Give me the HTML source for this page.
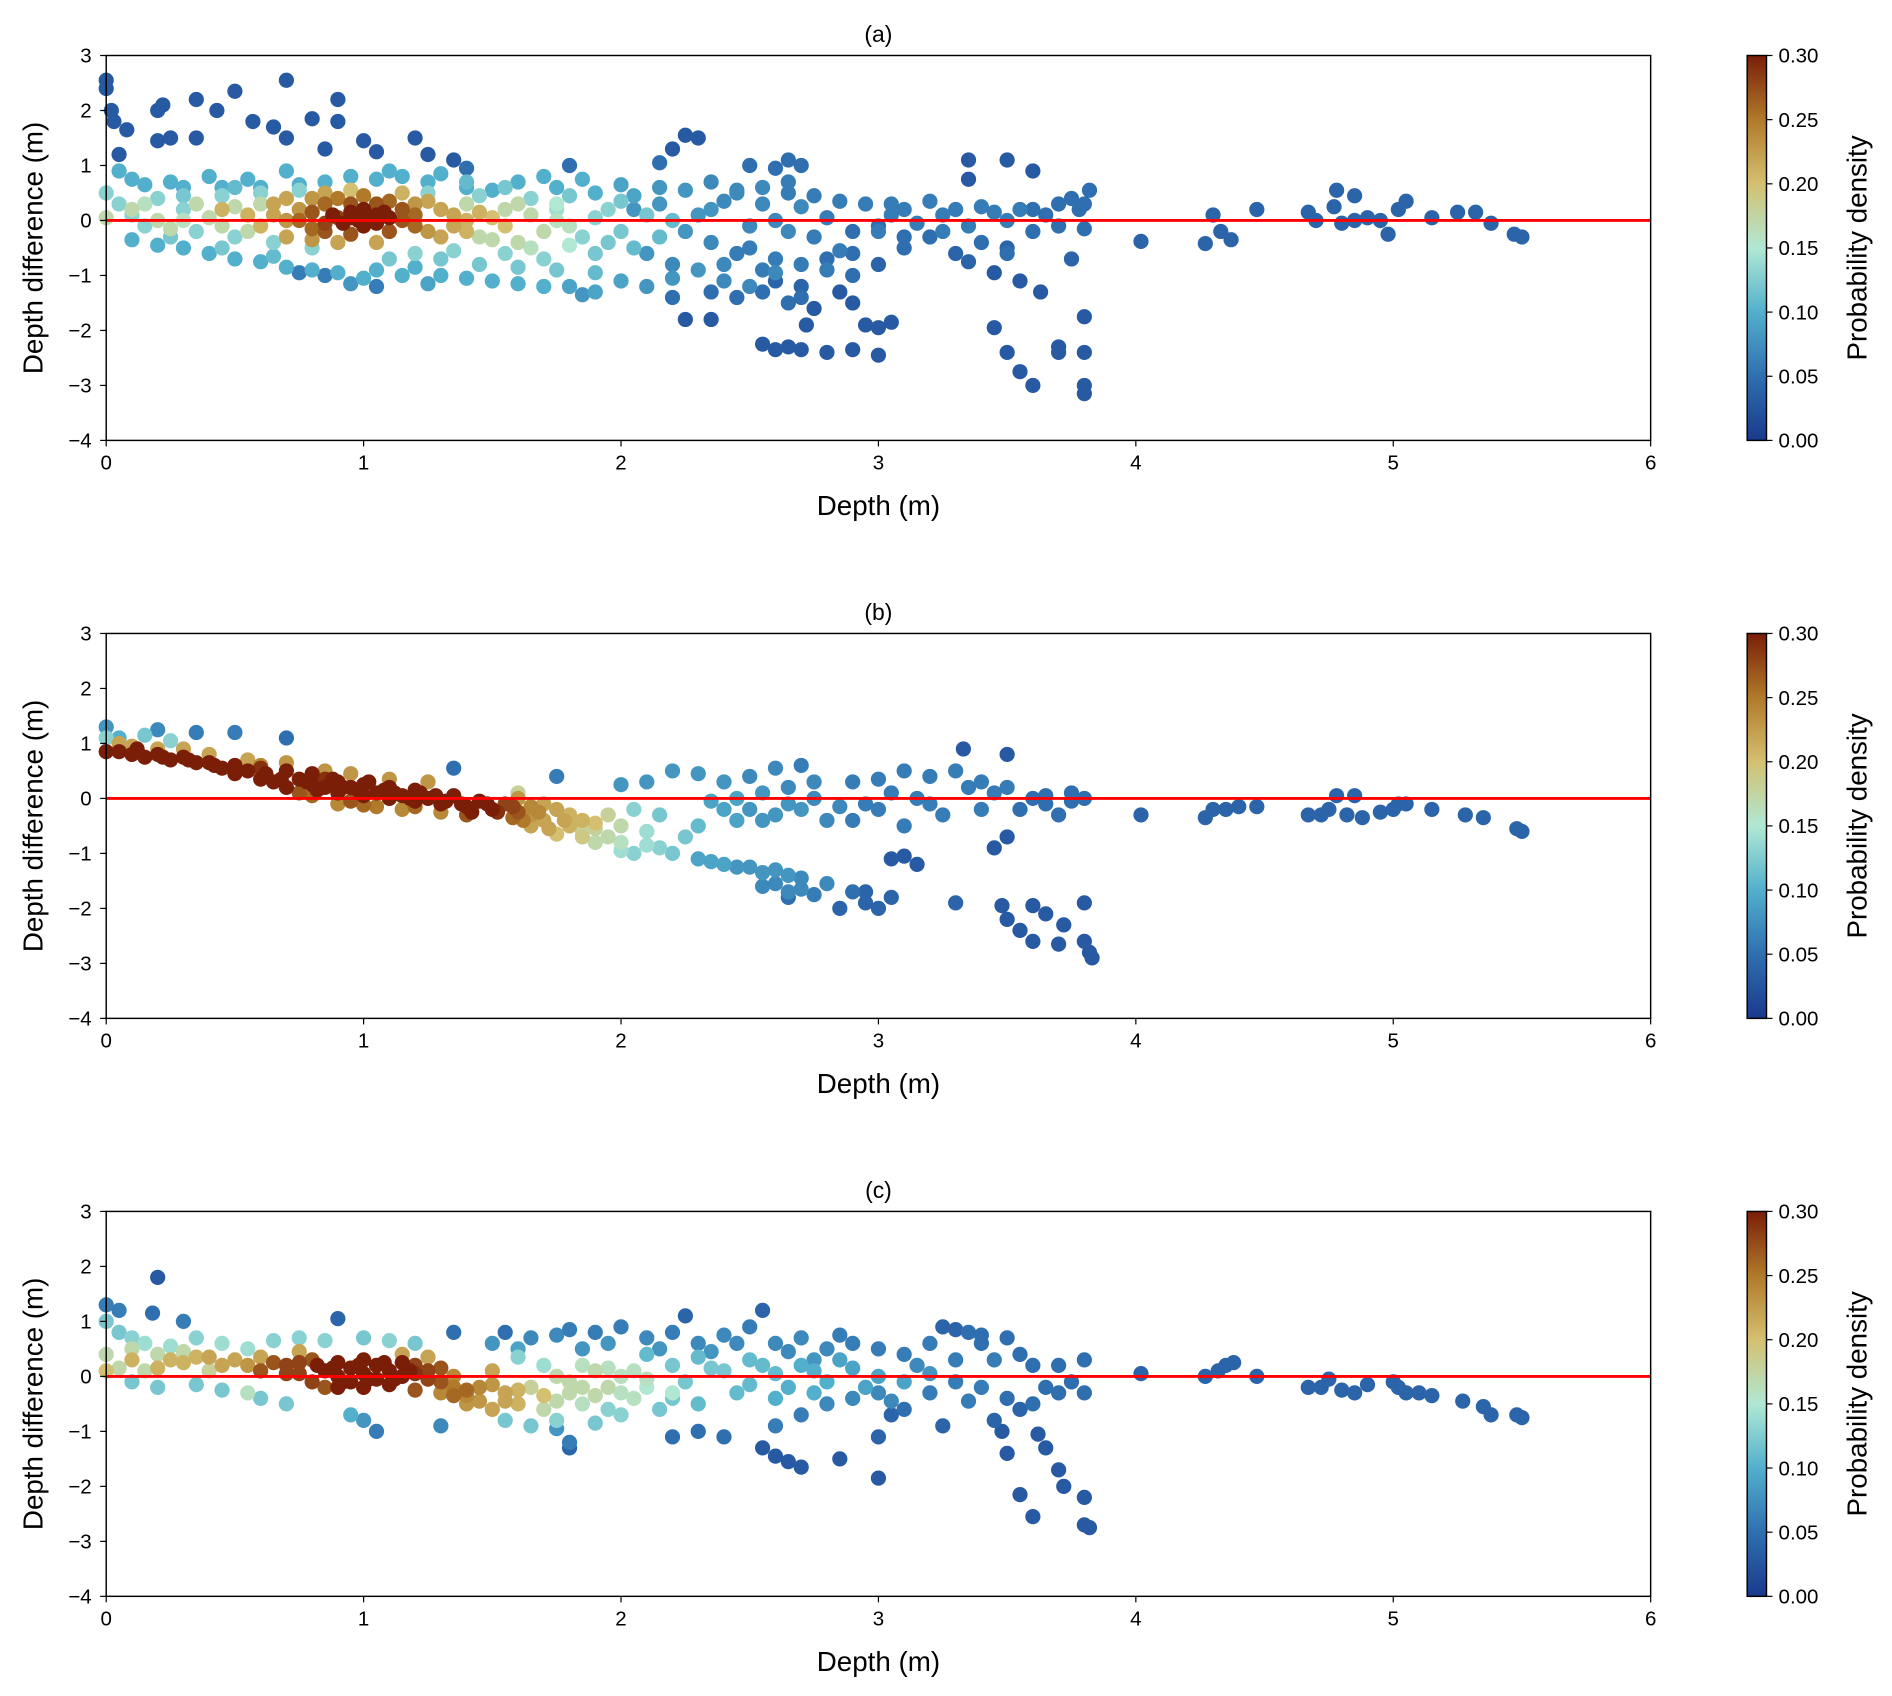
<!DOCTYPE html>
<html><head><meta charset="utf-8">
<style>
html,body{margin:0;padding:0;background:#fff;}
svg{display:block;font-family:"Liberation Sans",Arial,sans-serif;}
</style></head>
<body>
<svg id="fig" width="1892" height="1696" viewBox="0 0 1568 1405.6" xmlns="http://www.w3.org/2000/svg">
<defs>
<linearGradient id="cmap" x1="0" y1="1" x2="0" y2="0">
<stop offset="0" stop-color="#1a3a8c"/>
<stop offset="0.1667" stop-color="#2f6fb0"/>
<stop offset="0.3333" stop-color="#52b0cc"/>
<stop offset="0.5" stop-color="#b0e8d4"/>
<stop offset="0.6667" stop-color="#d4c070"/>
<stop offset="0.8333" stop-color="#b07a2a"/>
<stop offset="1" stop-color="#7a1e08"/>
</linearGradient>
</defs>
</svg>
<script>
const xTicks=[0,1,2,3,4,5,6];
const yTicks=[-4,-3,-2,-1,0,1,2,3];
const cbTicks=[0,0.05,0.1,0.15,0.2,0.25,0.3];
const panelTitles=["(a)","(b)","(c)"];
const ptsA=[
[0,2.55,.03],[0,2.4,.03],[.02,2,.03],[.03,1.8,.03],[.05,1.2,.03],[.08,1.65,.03],[.2,2,.03],[.22,2.1,.03],[.2,1.45,.03],[.25,1.5,.03],[.35,2.2,.03],[.43,2,.03],[.5,2.35,.03],[.35,1.5,.03],[.57,1.8,.03],[.65,1.7,.03],[.7,2.55,.03],[.8,1.85,.03],[.7,1.5,.03],[.9,2.2,.03],[.9,1.8,.03],[.85,1.3,.03],[1,1.45,.03],[1.05,1.25,.03],[1.2,1.5,.03],[1.25,1.2,.03],[1.4,.95,.05],[1.35,1.1,.03],[1.8,1,.05],[2.25,1.55,.03],[2.3,1.5,.03],[2.2,1.3,.03],[2.15,1.05,.05],[2.5,1,.05],[2.6,.95,.05],[2.65,1.1,.05],[2.7,1,.05],[3.35,1.1,.03],[3.5,1.1,.03],[3.6,.9,.03],[3.35,.75,.03],
[2.25,-1.8,.03],[2.35,-1.8,.03],[2.55,-2.25,.03],[2.6,-2.35,.03],[2.65,-2.3,.03],[2.7,-2.35,.03],[2.72,-1.9,.03],[2.8,-2.4,.03],[2.9,-2.35,.03],[2.95,-1.9,.03],[3,-2.45,.03],[3,-1.95,.03],[3.05,-1.85,.03],[2.85,-1.3,.03],[2.9,-1.5,.03],[2.75,-1.6,.03],[2.7,-1.2,.04],[2.6,-1.1,.04],[3.45,-1.95,.03],[3.5,-2.4,.03],[3.55,-2.75,.03],[3.6,-3,.03],[3.7,-2.3,.03],[3.7,-2.4,.03],[3.8,-2.4,.03],[3.8,-3,.03],[3.8,-3.15,.03],[3.8,-1.75,.03],[3.63,-1.3,.03],[3.55,-1.1,.03],[3.45,-.95,.03],[3.5,-.5,.04],[3.75,-.7,.04],[3.3,-.6,.04],[3,-.8,.04],
[4.02,-.38,.04],[4.27,-.42,.04],[4.3,.1,.04],[4.33,-.2,.04],[4.37,-.35,.04],[4.47,.2,.04],[4.67,.15,.04],[4.7,0,.04],[4.77,.25,.04],[4.78,.55,.04],[4.8,-.05,.04],[4.85,.45,.04],[4.85,0,.04],[4.9,.05,.04],[4.95,0,.04],[4.98,-.25,.04],[5.02,.2,.04],[5.05,.35,.04],[5.15,.05,.04],[5.25,.15,.04],[5.32,.15,.04],[5.38,-.05,.04],[5.47,-.25,.04],[5.5,-.3,.04],
[.05,.9,.1],[.1,.75,.1],[.15,.65,.1],[.25,.7,.1],[.3,.6,.1],[.4,.8,.1],[.45,.6,.1],[.55,.75,.1],[.6,.6,.1],[.7,.9,.1],[.75,.65,.1],[.85,.7,.1],[.95,.8,.1],[1.05,.75,.1],[1.1,.9,.1],[1.15,.8,.1],[1.25,.7,.1],[1.3,.85,.1],[1.4,.6,.1],[1.5,.55,.1],[1.6,.7,.1],[1.7,.8,.1],[1.75,.6,.1],[1.85,.75,.1],[1.9,.5,.1],[2,.65,.09],[2.05,.45,.09],[2.15,.6,.08],[2.25,.55,.08],[2.35,.7,.07],[2.45,.55,.07],[2.55,.6,.07],[2.65,.5,.06],[2.75,.45,.06],
[.1,-.35,.1],[.2,-.45,.1],[.3,-.5,.1],[.4,-.6,.1],[.5,-.7,.1],[.6,-.75,.1],[.7,-.85,.1],[.8,-.9,.1],[.9,-.95,.1],[1,-1.05,.1],[1.05,-.9,.1],[1.15,-1,.1],[1.2,-.85,.1],[1.3,-1,.1],[1.4,-1.05,.1],[1.5,-1.1,.1],[1.6,-1.15,.1],[1.7,-1.2,.1],[1.8,-1.2,.09],[1.9,-1.3,.09],[2,-1.1,.09],[2.1,-1.2,.08],[2.2,-1.05,.08],[2.3,-.9,.08],[2.4,-1.1,.07],[2.5,-1.2,.07],[2.6,-.95,.07],[2.7,-.8,.06],[2.8,-.9,.06],[1.85,-1.35,.08],[1.25,-1.15,.09],[.95,-1.15,.08],
[.75,-.95,.06],[.85,-1,.06],[1.05,-1.2,.06],[2.2,-1.4,.05],[2.35,-1.3,.05],[2.45,-1.4,.05],[2.55,-1.3,.05],[2.65,-1.5,.05],[2.7,-1.4,.05],[2.9,-1,.05],[3.1,-.5,.05],[3.2,-.3,.05],[2.9,-.2,.05],[3,-.1,.05],
[2.05,.2,.08],[2.15,.3,.08],[2.25,-.2,.08],[2.3,.1,.08],[2.4,.35,.07],[2.5,-.1,.07],[2.55,.3,.07],[2.6,0,.07],[2.7,.25,.07],[2.75,-.3,.06],[2.8,.05,.06],[2.85,-.55,.06],[2.95,.3,.06],[3,-.2,.06],[3.05,.1,.06],[3.1,.2,.06],[3.15,-.05,.06],[3.2,.35,.06],[3.25,.1,.06],[3.3,.2,.06],[3.35,-.1,.06],[3.4,.25,.06],[3.45,.15,.06],[3.5,0,.06],[3.55,.2,.06],[3.6,-.2,.05],[3.65,.1,.05],[3.7,-.1,.05],[3.75,.4,.05],[3.78,.2,.05],[3.8,.3,.05],[3.82,.55,.05],[3.8,-.15,.05],[2.45,-.6,.06],[2.6,-.7,.06],[2.8,-.7,.05],[3.1,-.3,.05],[3.5,-.6,.05],[3.35,-.75,.04],[2.5,-.5,.06],
[2.1,-.6,.08],[2.2,-.8,.07],[2.35,-.4,.07],[2.4,-.8,.07],[2.55,-.9,.06],[2.65,-.2,.07],[2.9,-.6,.05],[3.25,-.2,.06],[3.4,-.4,.05],[3.6,.2,.05],[3.7,.3,.05],[2.35,.2,.08],[2.45,.5,.07],[2.65,.7,.06],[2.85,.35,.06],[3.05,.3,.06],
[0,.5,.13],[.05,.3,.13],[.1,.1,.13],[.15,-.1,.13],[.2,.4,.13],[.3,.2,.13],[.35,-.2,.13],[.45,.45,.13],[.5,-.3,.13],[.6,.5,.13],[.65,-.4,.13],[.75,.55,.13],[.8,-.5,.13],[1.25,.5,.13],[1.2,-.6,.13],[1.35,-.55,.13],[1.45,.45,.13],[1.55,-.6,.13],[1.65,.4,.13],[1.7,-.7,.13],[1.8,.45,.12],[1.9,-.6,.12],[2,.35,.12],[2.05,-.5,.11],[2.1,.1,.12],[2.15,-.3,.11],[1.95,.2,.13],[2.2,0,.11],[1.75,.2,.14],[1.85,-.3,.13],
[1.3,-.7,.12],[1.45,-.8,.12],[1.6,-.85,.12],[1.75,-.9,.12],[1.9,-.95,.11],[1.95,-.4,.12],[2,-.2,.12],[1.9,.05,.13],[1.4,.7,.11],[1.55,.6,.12],[.3,.45,.12],[.5,.6,.11],[.25,-.3,.12],[.45,-.5,.12],[.65,-.65,.11],[1.1,-.7,.12],
[0,.05,.17],[.1,.2,.17],[.2,0,.17],[.25,-.15,.17],[.35,.3,.17],[.4,.05,.17],[.5,.25,.17],[.55,-.2,.17],[.6,.3,.17],[1.4,.3,.17],[1.5,-.35,.17],[1.55,.2,.17],[1.6,-.4,.17],[1.65,.1,.17],[1.7,-.2,.17],[1.75,0,.16],[1.8,-.1,.16],[1.6,.3,.17],[1.45,-.3,.17],
[1.65,-.5,.16],[1.8,-.45,.15],[1.75,.3,.15],[.3,0,.16],[.45,-.1,.17],[.15,.3,.16],
[.45,.2,.21],[.55,.1,.21],[.6,-.1,.21],[.65,.3,.22],[.7,.4,.22],[.7,-.3,.22],[.75,.2,.23],[1.25,.35,.22],[1.3,-.3,.22],[1.35,.1,.22],[1.4,0,.21],[1.45,.15,.21],[1.5,.05,.2],[1.55,-.1,.2],[1.35,-.1,.22],[1.2,.3,.23],[.8,.4,.23],[.85,.5,.22],[.8,-.35,.23],[1.25,-.2,.23],
[.65,.1,.22],[.7,0,.23],[1.3,.2,.22],[1.4,-.2,.21],[1.15,.5,.21],[.95,.55,.2],[1.05,-.4,.22],[.9,-.4,.22],
[.75,0,.26],[.8,.15,.27],[.8,-.15,.26],[.85,.3,.26],[.85,-.2,.27],[.9,.4,.25],[.9,.05,.28],[.95,.3,.27],[.95,-.25,.27],[1,.45,.25],[1.05,.3,.27],[1.1,-.2,.27],[1.1,.35,.26],[1.15,0,.27],[1.15,.2,.27],[1.2,-.1,.26],[1.2,.1,.26],[.85,-.05,.28],
[.88,.1,.3],[.92,-.05,.3],[.95,.15,.3],[.98,0,.3],[1,.2,.3],[1,-.1,.3],[1.02,.05,.3],[1.05,.1,.3],[1.05,-.05,.3],[1.08,.15,.3],[.95,.05,.3],[1.1,.05,.3]
];
const ptsB=[
[0,1.3,.08],[.05,1.1,.1],[.2,1.25,.07],[.35,1.2,.06],[.5,1.2,.06],[.7,1.1,.05],[1.35,.55,.05],[1.75,.4,.06],[3.33,.9,.03],[3.5,.8,.03],
[0,.85,.3],[.05,.85,.3],[.1,.8,.3],[.15,.75,.3],[.2,.8,.3],[.25,.7,.3],[.3,.75,.3],[.35,.65,.3],[.4,.65,.3],[.45,.55,.3],[.5,.45,.3],[.5,.6,.3],[.6,.35,.3],[.65,.3,.3],[.7,.5,.3],[.7,.2,.3],[.75,.35,.3],[.8,.25,.3],[.8,.45,.3],[.85,.2,.3],[.9,.3,.3],[.9,.1,.3],[.95,.2,.3],[1,.05,.3],[1,.25,.3],[1.05,.1,.3],[1.1,0,.3],[1.1,.2,.3],[1.15,.05,.3],[1.2,-.05,.3],[1.2,.15,.3],[1.25,0,.3],[1.3,-.1,.3],[1.35,.05,.3],[1.4,-.15,.3],[1.45,-.05,.3],[1.5,-.2,.3],[1.55,-.1,.28],[1.6,-.25,.27],[1.4,-.3,.27],[.95,-.05,.27],[.75,.1,.27],
[.12,.9,.3],[.22,.75,.3],[.32,.7,.3],[.42,.6,.3],[.55,.5,.3],[.62,.45,.3],[.68,.35,.3],[.78,.3,.3],[.82,.15,.3],[.88,.35,.3],[.92,.2,.3],[.98,.15,.3],[1.02,.3,.3],[1.08,.15,.3],[1.12,.1,.3],[1.18,0,.3],[1.22,.1,.3],[1.28,.05,.3],[1.32,-.05,.3],[1.38,-.1,.3],[1.42,-.25,.3],[1.48,-.1,.3],[1.52,-.25,.29],[1.58,-.15,.28],[.6,.55,.29],[.85,.35,.29],
[.05,1,.22],[.1,.95,.22],[.2,.9,.22],[.3,.9,.22],[.4,.8,.22],[.55,.7,.22],[.6,.6,.24],[.7,.65,.23],[.85,.5,.23],[.95,.45,.23],[1.1,.35,.23],[1.25,.3,.23],[.9,-.1,.24],[1.15,-.2,.24],[1.3,-.25,.24],[1.6,0,.23],[1.65,-.3,.23],[1.7,-.4,.22],[1.75,-.2,.22],[1.8,-.5,.21],[1.85,-.4,.21],[1.7,-.1,.22],[1.65,-.5,.22],[1.75,-.65,.2],[1.8,-.3,.21],[1.05,-.15,.25],
[1.62,-.4,.25],[1.68,-.25,.24],[1.72,-.55,.22],[1.78,-.4,.22],[1.58,-.35,.26],[1.9,-.45,.2],[1.85,-.7,.19],[1.65,-.15,.24],[.8,.05,.26],[1.0,-.12,.26],[1.2,-.15,.26],
[1.85,-.6,.18],[1.9,-.55,.18],[1.95,-.7,.17],[1.9,-.8,.17],[2,-.5,.17],[1.6,.1,.18],[1.95,-.3,.18],[2,-.8,.16],
[2,-.95,.14],[2.05,-1,.13],[2.1,-.85,.14],[2.15,-.9,.13],[2.2,-1,.12],[2.1,-.6,.14],[2.15,-.3,.12],[.15,1.15,.12],[.25,1.05,.13],[0,1.1,.13],[2.05,-.2,.13],[2.25,-.7,.12],[2.3,-.5,.11],
[2.3,-1.1,.09],[2.4,-1.2,.09],[2.5,-1.25,.08],[2.6,-1.3,.08],[2.7,-1.45,.07],[2.8,-1.55,.07],[2.55,-1.6,.07],[2.65,-1.7,.07],[2.75,-1.75,.06],[2.45,-.4,.09],[2.5,-.2,.08],[2.55,.1,.08],[2.6,-.3,.08],[2.65,.2,.07],[2.7,-.2,.08],[2.75,0,.07],[2.8,-.4,.07],[2.85,-.15,.07],[2.5,.4,.07],[2.6,.55,.07],[2.7,.6,.06],[2.4,.3,.08],[2.3,.45,.08],[2.2,.5,.08],[2.1,.3,.08],[2,.25,.08],[2.35,-.05,.09],[2.9,.3,.06],[3,.35,.06],[3.1,.5,.06],[3.2,.4,.06],[3.3,.5,.06],[3.4,.3,.06],[3,-.2,.06],[3.1,-.5,.06],[3.15,0,.06],[3.25,-.3,.06],[3.35,.2,.06],[3.45,.1,.06],[3.55,-.2,.05],[3.6,0,.05],[3.7,-.3,.05],[3.75,.1,.05],[3.8,0,.05],[3.65,-.1,.05],[2.9,-.4,.06],[2.45,0,.09],
[2.35,-1.15,.09],[2.45,-1.25,.08],[2.55,-1.35,.08],[2.65,-1.4,.08],[2.6,-1.55,.07],[2.7,-1.65,.07],[2.4,-.2,.09],[2.55,-.4,.08],[2.65,-.1,.08],[2.75,.3,.07],[2.95,-.1,.06],[3.05,.1,.06],[3.2,-.1,.06],[3.4,-.2,.06],[3.5,.2,.06],[3.65,.05,.05],[3.75,-.05,.05],
[2.65,-1.8,.05],[2.95,-1.7,.04],[2.95,-1.9,.04],[3,-2,.04],[3.05,-1.8,.04],[3.05,-1.1,.03],[3.1,-1.05,.03],[3.15,-1.2,.03],[3.3,-1.9,.04],[3.45,-.9,.03],[3.48,-1.95,.03],[3.5,-2.2,.03],[3.55,-2.4,.03],[3.6,-2.6,.03],[3.6,-1.95,.03],[3.65,-2.1,.03],[3.7,-2.65,.03],[3.72,-2.3,.03],[3.8,-1.9,.03],[3.8,-2.6,.03],[3.82,-2.8,.03],[3.83,-2.9,.03],[3.5,-.7,.03],[2.85,-2,.04],[2.9,-1.7,.05],
[4.02,-.3,.04],[4.27,-.35,.04],[4.3,-.2,.04],[4.35,-.2,.04],[4.4,-.15,.04],[4.47,-.15,.04],[4.67,-.3,.04],[4.72,-.3,.04],[4.75,-.2,.04],[4.78,.05,.04],[4.82,-.3,.04],[4.85,.05,.04],[4.88,-.35,.04],[4.95,-.25,.04],[5,-.2,.04],[5.02,-.1,.04],[5.05,-.1,.04],[5.15,-.2,.04],[5.28,-.3,.04],[5.35,-.35,.04],[5.48,-.55,.04],[5.5,-.6,.04]
];
const ptsC=[
[0,1.3,.06],[.05,1.2,.06],[.2,1.8,.03],[.18,1.15,.05],[.3,1,.06],[.9,1.05,.04],[1.35,.8,.05],[1.55,.8,.05],[2.25,1.1,.04],[2.55,1.2,.04],[3.25,.9,.04],[3.3,.85,.04],
[1.5,.6,.08],[1.65,.7,.07],[1.75,.75,.07],[1.8,.85,.06],[1.9,.8,.06],[2,.9,.06],[2.1,.7,.07],[2.2,.8,.06],[2.3,.6,.07],[2.4,.75,.07],[2.5,.9,.06],[2.6,.6,.07],[2.7,.7,.07],[2.8,.5,.07],[2.9,.6,.06],[3,.5,.06],[3.1,.4,.06],[3.2,.6,.06],[3.35,.8,.05],[3.4,.6,.05],[3.5,.7,.05],[3.55,.4,.05],[3.6,.2,.05],[3.45,.3,.06],[3.3,.3,.06],[1.85,.5,.08],[2.35,.45,.08],[2.75,.3,.08],[3.7,.2,.05],[3.8,.3,.05],[3.75,-.1,.05],[3.8,-.3,.05],[3.7,-.3,.05],[3.6,-.5,.05],[3.5,-.4,.05],[3.4,-.2,.06],[3.3,-.1,.06],[3.2,-.3,.06],[3.1,-.6,.05],[3,-.3,.07],[2.9,-.4,.07],[3.25,-.9,.04],[3,-1.1,.04],[2.4,-1.1,.05],[2.3,-1,.05],[2.2,-1.1,.05],[2.6,-.9,.06],[2.7,-.7,.06],[1.8,-1.2,.06],[1.75,-.95,.08],[1.3,-.9,.07],[1.05,-1,.06],[1,-.8,.08],[.95,-.7,.1],
[2.45,.6,.07],[2.65,.45,.07],[2.85,.75,.06],[3.15,.2,.07],[3.4,.75,.05],[2.15,.5,.08],[1.95,.6,.08],[1.6,.5,.09],[3.05,-.45,.07],[3.35,-.45,.06],[3.65,-.2,.05],[2.8,-.5,.07],
[2.55,-1.3,.03],[2.6,-1.45,.03],[2.65,-1.55,.03],[2.7,-1.65,.03],[2.85,-1.5,.03],[3,-1.85,.03],[3.05,-.7,.04],[3.45,-.8,.04],[3.5,-1.4,.03],[3.55,-2.15,.03],[3.6,-2.55,.03],[3.62,-1.05,.03],[3.65,-1.3,.03],[3.7,-1.7,.03],[3.72,-2,.03],[3.8,-2.2,.03],[3.8,-2.7,.03],[3.82,-2.75,.03],[3.48,-1,.03],[3.55,-.6,.04],[1.8,-1.3,.04],
[4.02,.05,.04],[4.27,0,.04],[4.32,.1,.04],[4.35,.2,.04],[4.38,.25,.04],[4.47,0,.04],[4.67,-.2,.04],[4.72,-.2,.04],[4.75,-.05,.04],[4.8,-.25,.04],[4.85,-.3,.04],[4.9,-.15,.04],[5,-.1,.04],[5.02,-.2,.04],[5.05,-.3,.04],[5.1,-.3,.04],[5.15,-.35,.04],[5.27,-.45,.04],[5.35,-.55,.04],[5.38,-.7,.04],[5.48,-.7,.04],[5.5,-.75,.04],
[0,1,.12],[.05,.8,.12],[.1,.7,.13],[.15,.6,.14],[.25,.55,.14],[.35,.7,.13],[.45,.6,.14],[.55,.5,.14],[.1,-.1,.12],[.2,-.2,.12],[.35,-.15,.12],[.45,-.25,.12],[.6,-.4,.12],[.7,-.5,.12],[1.55,-.8,.12],[1.65,-.9,.12],[1.75,-.8,.13],[2.1,.4,.11],[2.2,.2,.12],[2.3,.35,.11],[2.4,.1,.12],[2.5,.3,.11],[2.6,.05,.11],[2.7,.2,.1],[2.8,-.1,.1],[2.9,.15,.09],[3,0,.09],[2.45,-.3,.11],[2.6,-.4,.1],[2.3,-.5,.11],[2.15,-.6,.12],[2,-.7,.13],[1.9,-.85,.12],[1,.7,.12],[1.2,.6,.12],[.75,.7,.13],[2.75,-.3,.1],[2.85,.3,.09],[1.6,.35,.13],[1.7,.2,.14],
[2.25,-.1,.12],[2.35,.15,.12],[2.5,-.15,.11],[2.55,.2,.11],[2.65,-.2,.1],[2.75,.1,.1],[2.95,-.2,.09],[3.1,-.1,.09],[3.2,.05,.08],[2.2,-.4,.12],[1.95,-.6,.13],[.85,.65,.13],[1.1,.65,.13],[.65,.65,.13],
[0,.4,.17],[.1,.5,.17],[.2,.4,.17],[.3,.45,.17],[.05,.15,.17],[.15,.1,.17],[1.75,0,.17],[1.8,-.3,.17],[1.85,-.5,.16],[1.9,.1,.17],[1.95,-.2,.17],[2,0,.16],[2.05,-.4,.16],[2.1,-.2,.15],[2.2,-.3,.15],[1.85,.2,.16],[1.7,-.6,.17],[1.65,-.2,.18],[.55,-.3,.16],[.4,.1,.18],
[1.8,-.1,.17],[1.85,-.2,.17],[1.9,-.35,.17],[2,-.3,.16],[2.05,.1,.16],[2.1,-.05,.16],[1.75,-.45,.17],[1.95,.15,.16],
[0,.1,.2],[.1,.3,.21],[.2,.15,.21],[.3,.25,.21],[.4,.35,.22],[.45,.2,.22],[.5,.3,.22],[.55,.2,.23],[1.3,-.3,.24],[1.4,-.5,.23],[1.5,-.6,.22],[1.55,-.3,.22],[1.6,-.5,.21],[1.45,-.2,.24],[1.35,0,.24],[1.5,.1,.22],[1.7,-.35,.2],[.6,.35,.22],[.75,.45,.22],[1.25,.35,.22],[1.15,.4,.22],
[1.4,-.35,.24],[1.45,-.45,.23],[1.55,-.45,.22],[1.6,-.25,.21],[1.35,-.2,.25],[1.5,-.15,.23],[.35,.35,.21],[.25,.3,.21],
[.6,.1,.27],[.65,.25,.27],[.7,.2,.28],[.75,.05,.28],[.8,.3,.27],[.85,-.2,.27],[1.2,-.25,.27],[1.25,.1,.28],[1.3,.15,.27],[1.3,-.1,.27],[1.35,-.35,.26],[1.4,-.25,.26],[1.2,.2,.28],[.8,-.1,.28],
[.7,.05,.28],[.75,.25,.28],[1.25,-.05,.28],[1.2,.05,.29],
[.85,.1,.3],[.9,0,.3],[.9,.25,.3],[.95,-.1,.3],[.95,.15,.3],[1,.05,.3],[1,-.2,.3],[1.05,.2,.3],[1.05,-.05,.3],[1.1,.1,.3],[1.1,-.15,.3],[1.15,0,.3],[1.15,.25,.3],[.9,-.2,.3],[1,.3,.3],
[.88,.15,.3],[.92,-.1,.3],[.98,.2,.3],[1.02,-.05,.3],[1.08,.25,.3],[1.12,-.05,.3],[1.18,.1,.3],[.82,.2,.3]
];
const panels=[ptsA,ptsB,ptsC];

const NS="http://www.w3.org/2000/svg";
const svg=document.getElementById('fig');
const X0=88,X1=1368,PH=319;
const tops=[46,525,1004];
const cmapStops=[[26,58,140],[47,111,176],[82,176,204],[176,232,212],[212,192,112],[176,122,42],[122,30,8]];
function colorOf(d){
  let t=Math.max(0,Math.min(1,d/0.3))*6;
  let i=Math.min(5,Math.floor(t)),f=t-i;
  const a=cmapStops[i],b=cmapStops[i+1];
  return 'rgb('+a.map((v,k)=>Math.round(v+(b[k]-v)*f)).join(',')+')';
}
function el(tag,attrs,parent){const e=document.createElementNS(NS,tag);for(const k in attrs)e.setAttribute(k,attrs[k]);(parent||svg).appendChild(e);return e;}
function txt(s,attrs,parent){const e=el('text',attrs,parent);e.textContent=s;return e;}

panels.forEach((pts,p)=>{
  const top=tops[p],bot=top+PH;
  const sx=v=>X0+(v-0)/(6-0)*(X1-X0);
  const sy=v=>bot-(v-(-4))/(3-(-4))*PH;
  const g=el('g',{});
  
  
  const t=txt(panelTitles[p],{x:(X0+X1)/2,y:top-11,'text-anchor':'middle','font-size':19,fill:'#000'},g);
  
  
  const pg=el('g',{},g);
  
  
  const sorted=pts.slice().sort((a,b)=>a[2]-b[2]);
  sorted.forEach(q=>{
    const c=el('circle',{cx:sx(q[0]),cy:sy(q[1]),r:6.3,fill:colorOf(q[2])},pg);
    
    
  });
  const zl=el('line',{x1:X0,x2:X1,y1:sy(0),y2:sy(0),stroke:'#ff0000','stroke-width':2.4},g);
  
  
  const fr=el('rect',{x:X0,y:top,width:X1-X0,height:PH,fill:'none',stroke:'#000','stroke-width':1.2},g);
  
  
  xTicks.forEach(v=>{
    el('line',{x1:sx(v),x2:sx(v),y1:bot,y2:bot+5,stroke:'#000','stroke-width':1},g);
    const l=txt(String(v),{x:sx(v),y:bot+24,'text-anchor':'middle','font-size':17},g);
    
    
  });
  yTicks.forEach(v=>{
    el('line',{x1:X0-5,x2:X0,y1:sy(v),y2:sy(v),stroke:'#000','stroke-width':1},g);
    const l=txt(v<0?'\u2212'+(-v):String(v),{x:X0-12,y:sy(v)+6,'text-anchor':'end','font-size':17},g);
    
    
  });
  const xl=txt('Depth (m)',{x:(X0+X1)/2,y:bot+62,'text-anchor':'middle','font-size':23},g);
  
  
  const yl=txt('Depth difference (m)',{x:0,y:0,'text-anchor':'middle','font-size':23,transform:'translate(35,'+(top+PH/2)+') rotate(-90)'},g);
  
  
  const CX=1448,CW=16;
  const cb=el('rect',{x:CX,y:top,width:CW,height:PH,fill:'url(#cmap)',stroke:'#000','stroke-width':1.2},g);
  
  
  cbTicks.forEach(v=>{
    const y=bot-v/0.3*PH;
    el('line',{x1:CX+CW,x2:CX+CW+5,y1:y,y2:y,stroke:'#000','stroke-width':1},g);
    const l=txt(v.toFixed(2),{x:CX+CW+10,y:y+6,'font-size':17},g);
    
    
  });
  const cl=txt('Probability density',{x:0,y:0,'text-anchor':'middle','font-size':23,transform:'translate(1547,'+(top+PH/2)+') rotate(-90)'},g);
  
  
});
</script>
</body></html>
